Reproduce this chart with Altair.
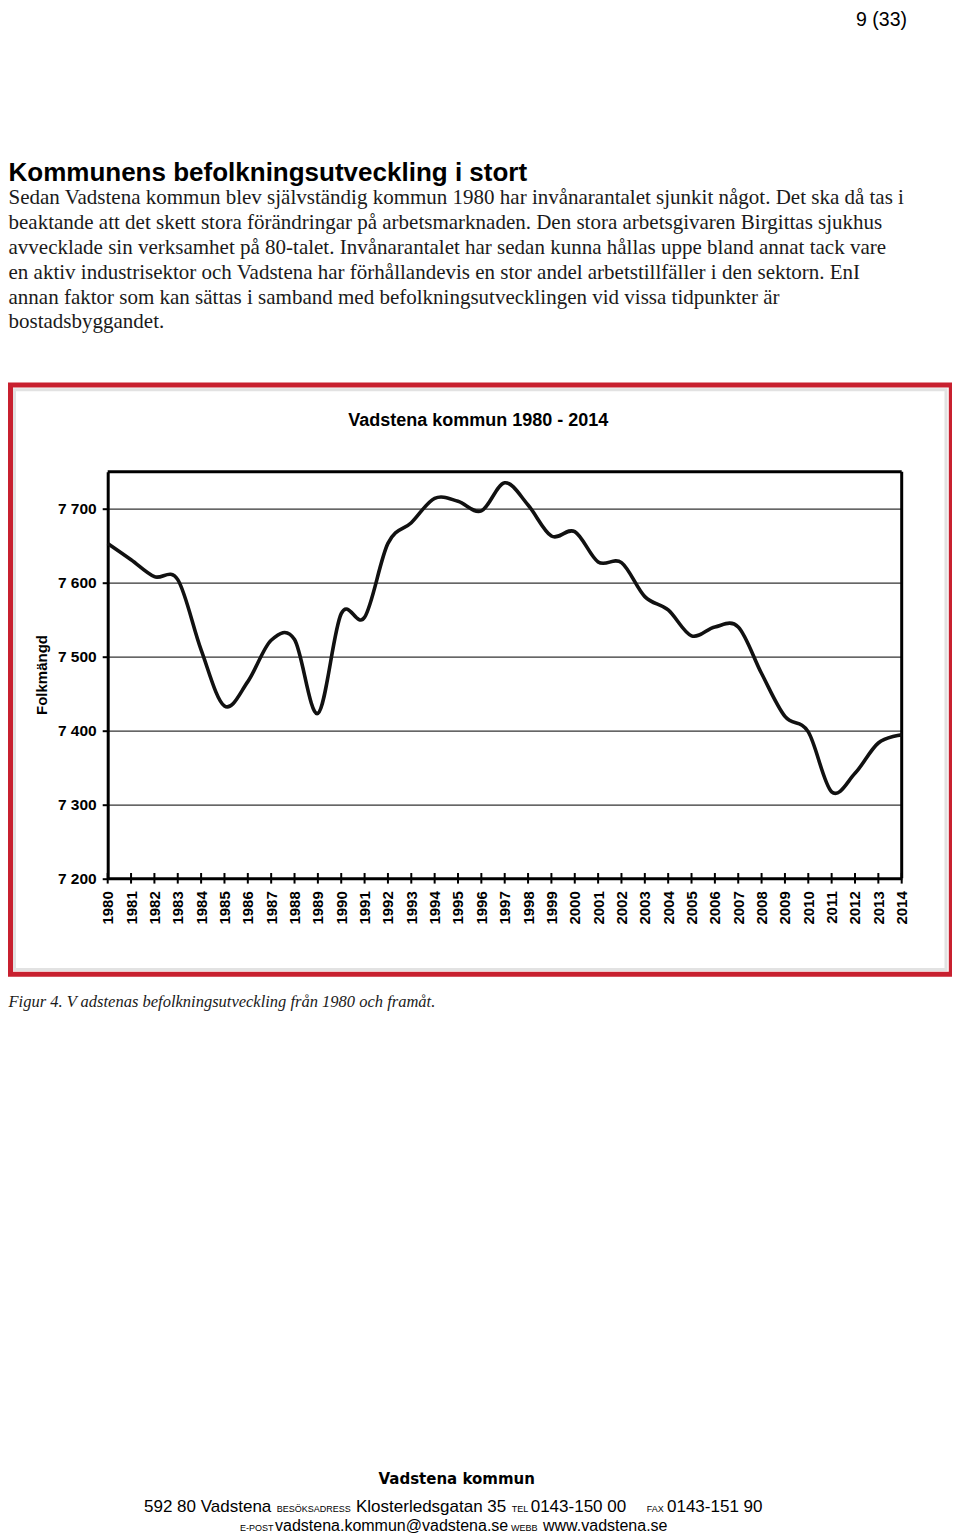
import altair as alt
import pandas as pd

# ---------------- data ----------------
years = [1980, 1981, 1982, 1983, 1984, 1985, 1986, 1987, 1988, 1989,
         1990, 1991, 1992, 1993, 1994, 1995, 1996, 1997, 1998, 1999,
         2000, 2001, 2002, 2003, 2004, 2005, 2006, 2007, 2008, 2009,
         2010, 2011, 2012, 2013, 2014]
population = [7653, 7631, 7608, 7604, 7509, 7433, 7466, 7522, 7523, 7423,
              7558, 7553, 7653, 7681, 7714, 7710, 7697, 7735, 7705, 7663,
              7669, 7628, 7627, 7581, 7563, 7528, 7540, 7540, 7477, 7419,
              7398, 7317, 7342, 7383, 7394]
y_ticks = [7200, 7300, 7400, 7500, 7600, 7700]

page_number = "9 (33)"
heading = "Kommunens befolkningsutveckling i stort"
body_lines = [
    "Sedan Vadstena kommun blev självständig kommun 1980 har invånarantalet sjunkit något. Det ska då tas i",
    "beaktande att det skett stora förändringar på arbetsmarknaden. Den stora arbetsgivaren Birgittas sjukhus",
    "avvecklade sin verksamhet på 80-talet. Invånarantalet har sedan kunna hållas uppe bland annat tack vare",
    "en aktiv industrisektor och Vadstena har förhållandevis en stor andel arbetstillfäller i den sektorn. EnI",
    "annan faktor som kan sättas i samband med befolkningsutvecklingen vid vissa tidpunkter är",
    "bostadsbyggandet.",
]
chart_title = "Vadstena kommun 1980 - 2014"
y_title = "Folkmängd"
caption = "Figur 4. V adstenas befolkningsutveckling från 1980 och framåt."
footer_title = "Vadstena kommun"
footer_line2 = [("592 80 Vadstena", "big"), ("BESÖKSADRESS", "small"),
                ("Klosterledsgatan 35", "big"), ("TEL", "small"),
                ("0143-150 00", "big"), ("FAX", "small"), ("0143-151 90", "big")]
footer_line3 = [("E-POST", "small"), ("vadstena.kommun@vadstena.se", "big"),
                ("WEBB", "small"), ("www.vadstena.se", "big")]

df = pd.DataFrame({"year": years, "value": population})
years_df = pd.DataFrame({"year": years})
one = alt.Data(values=[{"k": 0}])

# ---------------- layout (page px -> plot px) ----------------
OX, OY = 107.7, 471.7          # plot origin on page
W, H = 794, 406.6              # plot size
TOTAL_W, TOTAL_H = 944, 1526

def px(x):
    return x - OX

def py(y):
    return y - OY

SANS = "Liberation Sans"
SERIF = "Liberation Serif"
RED = "#c8202f"

xscale = alt.Scale(domain=[1980, 2014], nice=False, zero=False)
yscale = alt.Scale(domain=[7200, 7750], nice=False, zero=False)

x_axis = alt.Axis(
    values=years, format="d", labelAngle=270, labelFont=SANS, labelFontWeight="bold",
    labelFontSize=15, labelColor="black", ticks=False, tickSize=0, domainWidth=3,
    domainColor="black", labelPadding=12.4, grid=False, title=None,
    labelOverlap=False, labelFlush=False, labelBound=False)
y_axis = alt.Axis(
    values=y_ticks, labelExpr="replace(format(datum.value, ',d'), ',', ' ')",
    labelFont=SANS, labelFontWeight="bold", labelFontSize=15.5, labelColor="black",
    ticks=True, tickSize=5.5, tickWidth=2, tickColor="black",
    domainWidth=3, domainColor="black", labelPadding=6.0,
    grid=True, gridColor="#333333", gridWidth=1.3, title=None)


def txt(s, x, y, size, font=SANS, weight="normal", style="normal",
        align="left", baseline="alphabetic", angle=0, color="black"):
    return alt.Chart(one).mark_text(
        text=s, font=font, fontSize=size, fontWeight=weight, fontStyle=style,
        align=align, baseline=baseline, angle=angle, color=color
    ).encode(x=alt.value(x), y=alt.value(y))


layers = []

# frames
layers.append(alt.Chart(one).mark_rect(fillOpacity=0, stroke="#e2e2e2", strokeWidth=3).encode(
    x=alt.value(px(14.5)), x2=alt.value(px(946.0)), y=alt.value(py(389.8)), y2=alt.value(py(969.5))))
layers.append(alt.Chart(one).mark_rect(fillOpacity=0, stroke=RED, strokeWidth=5).encode(
    x=alt.value(px(10.5)), x2=alt.value(px(951.3)), y=alt.value(py(385.0)), y2=alt.value(py(974.2))))

# top and right border of plot
layers.append(alt.Chart(one).mark_rule(color="black", strokeWidth=3).encode(
    x=alt.value(0), x2=alt.value(W), y=alt.value(0)))
layers.append(alt.Chart(one).mark_rule(color="black", strokeWidth=3).encode(
    x=alt.value(W), y=alt.value(0), y2=alt.value(H)))

# data line with axes
line = alt.Chart(df).mark_line(interpolate="cardinal", color="#111111", strokeWidth=3.6).encode(
    x=alt.X("year:Q", scale=xscale, axis=x_axis),
    y=alt.Y("value:Q", scale=yscale, axis=y_axis),
)
layers.append(line)

# crossing x ticks
layers.append(alt.Chart(years_df).mark_rule(color="black", strokeWidth=2).encode(
    x=alt.X("year:Q", scale=xscale, axis=x_axis),
    y=alt.value(H - 5.3), y2=alt.value(H + 5.3)))

# texts
layers.append(txt(page_number, px(907), py(26), 19.5, align="right"))
layers.append(txt(heading, px(8.5), py(181), 26, weight="bold"))
for i, s in enumerate(body_lines):
    layers.append(txt(s, px(8.5), py(204.3 + 24.8 * i), 21, font=SERIF, color="#1a1a1a"))
layers.append(txt(chart_title, px(478.3), py(426), 18, weight="bold", align="center"))
layers.append(txt(y_title, px(41.7), py(675), 15, weight="bold", align="center",
                  baseline="middle", angle=270))
layers.append(txt(caption, px(8.5), py(1006.7), 16.5, font=SERIF, style="italic", color="#1a1a1a"))
layers.append(txt(footer_title, px(456.7), py(1484.3), 15, font="DejaVu Sans",
                  weight="bold", align="center"))

line2_x = [144, 276.7, 356, 511.7, 530.7, 646.7, 667]
for (s, kind), x in zip(footer_line2, line2_x):
    layers.append(txt(s, px(x), py(1511.5), 17 if kind == "big" else 9))
line3_x = [240, 275, 511, 543]
for (s, kind), x in zip(footer_line3, line3_x):
    layers.append(txt(s, px(x), py(1531), 16 if kind == "big" else 9))

chart = alt.layer(*layers).properties(
    width=W, height=H,
    autosize=alt.AutoSizeParams(type="none"),
    padding={"left": OX - 8, "top": OY - 8,
             "right": TOTAL_W - (OX - 8) - W, "bottom": TOTAL_H - (OY - 8) - H},
    background="white",
).configure_view(stroke=None)

chart.save("out.html", embed_options={"renderer": "svg", "actions": False})
